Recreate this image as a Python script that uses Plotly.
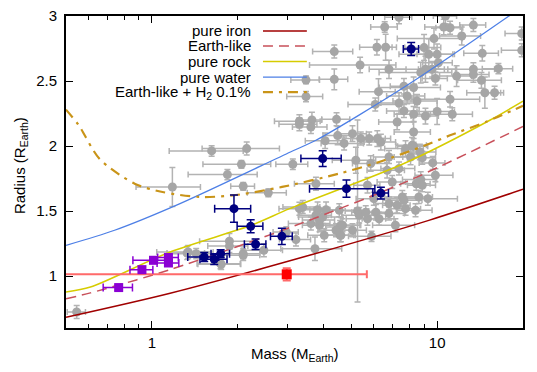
import plotly.graph_objects as go
import math

# ---------------- data ----------------
# model curves (mass in M_Earth, radius in R_Earth)
iron_m = [0.5, 1.159, 3.567, 9.35, 20.0]
iron_r = [0.682, 0.867, 1.159, 1.428, 1.667]

earth_m = [0.5, 0.609, 1.159, 3.2, 7.85, 20.0]
earth_r = [0.825, 0.87, 1.049, 1.39, 1.728, 2.15]

rock_m = [0.5, 0.609, 1.159, 2.23, 3.04, 7.65, 15.3, 20.0]
rock_r = [0.877, 0.915, 1.185, 1.39, 1.518, 1.865, 2.198, 2.345]

water_m = [0.5, 0.74, 1.255, 3.06, 3.76, 7.85, 18.0]
water_r = [1.236, 1.352, 1.557, 1.954, 2.044, 2.467, 3.005]

h2_m = [0.5, 0.554, 0.656, 0.87, 1.09, 1.47, 1.92, 2.86, 4.54, 6.26, 9.1, 11.1, 15.0, 20.0]
h2_r = [2.28, 2.16, 1.90, 1.71, 1.646, 1.608, 1.62, 1.685, 1.788, 1.877, 2.006, 2.082, 2.19, 2.31]

# known planets (gray)
gray_m = [0.545, 1.62, 2.15, 2.06, 1.84, 2.09, 1.18, 2.56, 3.12, 6.55,
          4.36, 6.15, 6.6, 5.37, 3.47, 4.36, 3.47, 3.29, 3.64, 4.44,
          6.23, 6.78, 7.65, 6.07, 7.35, 10.7, 10.55, 11.1, 13.4, 12.2,
          9.75, 19.8, 19.8, 9.0, 9.35, 10.0, 14.4, 10.1, 9.1, 9.6,
          13.4, 16.4, 11.7, 13.4, 8.76, 9.86, 14.3, 14.7, 15.9, 8.27,
          7.85, 8.5, 11.1, 7.65, 8.27, 10.0, 11.3, 9.1, 3.29, 3.61,
          4.05, 4.48, 4.72, 5.05, 5.4, 5.78, 6.17, 5.19, 5.26, 5.85,
          6.68, 7.35, 7.75, 7.24, 6.35, 6.78, 5.7, 6.0, 6.78, 7.24,
          7.55, 3.29, 3.81, 4.08, 4.54, 3.97, 4.6, 5.7, 6.1, 6.78,
          3.61, 8.27, 8.27, 8.7, 8.87, 8.07, 9.65, 9.86, 8.76, 8.45,
          9.28, 7.65, 1.34, 1.87, 1.87, 2.09, 2.47, 1.74, 2.96, 3.2,
          3.73, 4.02, 4.57, 4.57, 3.87, 5.89, 3.76, 3.38, 3.76, 3.87,
          4.6, 6.26, 6.96, 8.17, 8.63, 2.09, 1.33, 1.43, 1.75, 4.42,
          4.66, 5.05, 5.33, 5.62, 7.14, 7.75, 8.4, 8.87, 7.35]
gray_r = [0.723, 1.962, 1.98, 1.859, 1.78, 1.69, 1.685, 1.64, 1.86, 2.915,
          2.726, 2.76, 2.76, 2.623, 2.508, 2.513, 2.38, 2.19, 2.2, 2.205,
          2.418, 2.59, 2.46, 2.32, 2.33, 3.0, 2.915, 2.91, 2.93, 2.846,
          2.826, 2.865, 2.736, 2.757, 2.705, 2.705, 2.713, 2.64, 2.59, 2.59,
          2.59, 2.595, 2.538, 2.55, 2.565, 2.52, 2.505, 2.41, 2.41, 2.45,
          2.385, 2.346, 2.36, 2.27, 2.244, 2.265, 2.244, 2.23, 2.167, 2.146,
          2.04, 2.08, 2.02, 2.095, 2.057, 2.057, 2.057, 1.89, 1.5, 1.865,
          1.813, 1.826, 1.98, 2.185, 2.03, 1.915, 1.698, 1.595, 1.557, 1.544,
          1.608, 1.518, 1.51, 1.51, 1.505, 1.454, 1.39, 1.44, 1.49, 1.48,
          1.403, 2.108, 1.998, 1.954, 1.91, 1.915, 1.87, 1.775, 1.742, 1.71,
          1.595, 1.582, 1.185, 1.267, 1.23, 1.172, 1.198, 1.095, 1.338, 1.28,
          1.21, 1.313, 1.313, 1.377, 1.39, 1.305, 1.71, 1.53, 1.467, 1.43,
          1.313, 1.44, 1.723, 2.005, 1.608, 1.16, 1.177, 1.172, 1.09, 1.352,
          1.39, 1.352, 1.467, 1.49, 1.39, 1.518, 1.505, 1.698, 2.99]
gray_dm = [0.04, 0.47, 0.65, 0.55, 0.5, 0.2, 0.3, 0.4, 0.4, 0.7,
           0.7, 0.8, 0.6, 1.8, 0.4, 0.5, 0.5, 0.6, 0.3, 0.5,
           0.9, 1.0, 0.8, 1.2, 1.0, 1.0, 1.5, 1.2, 1.4, 2.0,
           2.5, 2.5, 3.0, 1.3, 2.0, 1.5, 2.0, 1.2, 2.5, 1.0,
           2.5, 2.0, 1.5, 1.8, 2.5, 1.0, 2.5, 2.0, 1.2, 2.0,
           1.2, 1.5, 3.0, 1.0, 1.2, 1.5, 2.0, 1.0, 0.5, 0.5,
           0.6, 0.5, 0.8, 0.6, 0.7, 0.8, 0.7, 0.9, 0.5, 0.8,
           1.0, 1.0, 1.2, 1.0, 0.8, 0.8, 0.6, 0.8, 0.7, 0.8,
           1.0, 0.5, 0.4, 0.5, 0.6, 0.7, 0.8, 0.9, 0.8, 0.9,
           0.6, 1.2, 1.0, 1.2, 1.0, 1.0, 1.0, 1.5, 1.2, 1.0,
           2.5, 1.2, 0.3, 0.4, 0.3, 0.3, 0.4, 0.3, 0.3, 0.4,
           0.9, 0.5, 0.6, 0.5, 0.5, 1.0, 0.6, 0.5, 0.5, 0.5,
           0.5, 0.8, 0.8, 1.0, 1.0, 0.3, 0.2, 0.3, 0.3, 0.6,
           0.7, 0.6, 0.7, 0.6, 1.2, 1.0, 1.2, 1.0, 0.8]
gray_dr = [0.05, 0.04, 0.05, 0.03, 0.04, 0.03, 0.15, 0.03, 0.04, 0.04,
           0.05, 0.06, 0.1, 0.06, 0.03, 0.08, 0.04, 0.05, 0.06, 0.05,
           0.1, 0.07, 0.06, 0.05, 0.08, 0.06, 0.06, 0.05, 0.05, 0.07,
           0.08, 0.05, 0.05, 0.1, 0.12, 0.08, 0.06, 0.05, 0.1, 0.06,
           0.05, 0.04, 0.08, 0.06, 0.08, 0.05, 0.06, 0.12, 0.05, 0.08,
           0.06, 0.05, 0.06, 0.05, 0.06, 0.1, 0.05, 0.06, 0.05, 0.05,
           0.06, 0.07, 0.05, 0.06, 0.05, 0.05, 0.06, 0.1, 0.7, 0.06,
           0.06, 0.05, 0.06, 0.06, 0.06, 0.05, 0.06, 0.05, 0.05, 0.06,
           0.05, 0.05, 0.06, 0.06, 0.05, 0.05, 0.06, 0.05, 0.06, 0.05,
           0.05, 0.08, 0.06, 0.06, 0.05, 0.06, 0.05, 0.05, 0.06, 0.05,
           0.05, 0.05, 0.05, 0.06, 0.05, 0.04, 0.05, 0.04, 0.04, 0.05,
           0.09, 0.05, 0.05, 0.05, 0.05, 0.04, 0.05, 0.05, 0.06, 0.06,
           0.05, 0.05, 0.05, 0.06, 0.05, 0.04, 0.05, 0.04, 0.04, 0.05,
           0.05, 0.05, 0.06, 0.05, 0.05, 0.05, 0.05, 0.05, 0.05]

# highlighted planets (navy circles)
navy_m = [8.11, 3.97, 4.81, 6.35, 1.94, 2.22, 2.31, 2.855, 1.526, 1.654, 1.742]
navy_r = [2.746, 1.903, 1.672, 1.638, 1.518, 1.382, 1.244, 1.305, 1.146, 1.128, 1.172]
navy_dm = [0.5, 0.64, 1.24, 0.4, 0.28, 0.23, 0.2, 0.25, 0.19, 0.18, 0.13]
navy_dr = [0.05, 0.06, 0.067, 0.045, 0.105, 0.05, 0.04, 0.063, 0.035, 0.04, 0.03]

# purple squares
purp_m = [0.765, 0.923, 1.013, 1.143, 1.143]
purp_r = [0.911, 1.049, 1.121, 1.142, 1.10]
purp_dm = [0.09, 0.085, 0.155, 0.095, 0.1]
purp_dr = [0.02, 0.02, 0.025, 0.025, 0.025]

# red square
red_m = [2.97]
red_r = [1.013]
red_dm_plus = [2.7]
red_dm_minus = [2.9]
red_dr = [0.047]

x_tickvals = [1, 10]
x_ticktext = ["1", "10"]
x_minor = [0.6, 0.7, 0.8, 0.9, 2, 3, 4, 5, 6, 7, 8, 9]
y_tickvals = [1, 1.5, 2, 2.5, 3]
y_ticktext = ["1", "1.5", "2", "2.5", "3"]

legend_names = ["pure iron", "Earth-like", "pure rock", "pure water",
                "Earth-like + H<sub>2</sub> 0.1%"]

# ---------------- styles ----------------
C_IRON = "#a00000"
C_EARTH = "#c8505a"
C_ROCK = "#d6cc00"
C_WATER = "#4d7fe6"
C_H2 = "#c99418"
GRAY = "#a6a6a6"
GRAY_BAR = "#b3b3b3"
NAVY = "#00007f"
PURPLE = "#8a00d4"
RED = "#ff0000"

dash_earth = "10px,6px"
dash_h2 = "10px,6px,3px,6px"

fig = go.Figure()

fig.add_trace(go.Scatter(
    x=gray_m, y=gray_r, mode="markers",
    marker=dict(color=GRAY, size=9, symbol="circle"),
    error_x=dict(type="data", array=gray_dm, color=GRAY_BAR, thickness=1.5, width=3),
    error_y=dict(type="data", array=gray_dr, color=GRAY_BAR, thickness=1.5, width=3),
    showlegend=False, cliponaxis=True))

curves = [
    (iron_m, iron_r, C_IRON, "solid", 1.5),
    (earth_m, earth_r, C_EARTH, dash_earth, 1.5),
    (rock_m, rock_r, C_ROCK, "solid", 1.5),
    (water_m, water_r, C_WATER, "solid", 1.3),
    (h2_m, h2_r, C_H2, dash_h2, 2.2),
]
for (xm, yr, c, d, w) in curves:
    fig.add_trace(go.Scatter(x=xm, y=yr, mode="lines",
                             line=dict(color=c, dash=d, width=w, shape="spline", smoothing=0.8),
                             showlegend=False))

fig.add_trace(go.Scatter(
    x=red_m, y=red_r, mode="markers",
    marker=dict(color=RED, size=10, symbol="square"),
    error_x=dict(type="data", symmetric=False, array=red_dm_plus, arrayminus=red_dm_minus,
                 color="#ff6a6a", thickness=2, width=4),
    error_y=dict(type="data", array=red_dr, color="#ff6a6a", thickness=2, width=4),
    showlegend=False))

fig.add_trace(go.Scatter(
    x=purp_m, y=purp_r, mode="markers",
    marker=dict(color=PURPLE, size=9, symbol="square"),
    error_x=dict(type="data", array=purp_dm, color=PURPLE, thickness=1.5, width=4),
    error_y=dict(type="data", array=purp_dr, color=PURPLE, thickness=1.5, width=4),
    showlegend=False))

fig.add_trace(go.Scatter(
    x=navy_m, y=navy_r, mode="markers",
    marker=dict(color=NAVY, size=9, symbol="circle"),
    error_x=dict(type="data", array=navy_dm, color=NAVY, thickness=1.5, width=4),
    error_y=dict(type="data", array=navy_dr, color=NAVY, thickness=1.5, width=4),
    showlegend=False))

# ---------------- legend (manual, text right-aligned, sample on right) ----------------
leg_y = [0.952, 0.904, 0.854, 0.804, 0.756]
leg_style = [(C_IRON, "solid", 1.5), (C_EARTH, dash_earth, 1.5), (C_ROCK, "solid", 1.5),
             (C_WATER, "solid", 1.3), (C_H2, dash_h2, 2.2)]
annotations = []
shapes = []
for name, yy, (c, d, w) in zip(legend_names, leg_y, leg_style):
    annotations.append(dict(text=name, xref="paper", yref="paper", x=0.409, y=yy,
                            xanchor="right", yanchor="middle", showarrow=False,
                            font=dict(size=15, color="black")))
    shapes.append(dict(type="line", xref="paper", yref="paper", x0=0.431, x1=0.527,
                       y0=yy, y1=yy, line=dict(color=c, dash=d, width=w)))

annotations.append(dict(text="Mass (M<sub>Earth</sub>)", xref="paper", yref="paper",
                        x=0.5, y=-0.085, xanchor="center", yanchor="middle",
                        showarrow=False, font=dict(size=15, color="black")))
annotations.append(dict(text="Radius (R<sub>Earth</sub>)", xref="paper", yref="paper",
                        x=-0.10, y=0.52, xanchor="center", yanchor="middle", textangle=-90,
                        showarrow=False, font=dict(size=15, color="black")))

fig.update_layout(
    width=537, height=372,
    margin=dict(l=66, r=14, t=16, b=44, autoexpand=False),
    paper_bgcolor="white", plot_bgcolor="white",
    font=dict(family="Liberation Sans, Arial, sans-serif", size=15, color="black"),
    showlegend=False,
    annotations=annotations, shapes=shapes,
    xaxis=dict(type="log", range=[math.log10(0.5), math.log10(20)], automargin=False,
               tickmode="array", tickvals=x_tickvals, ticktext=x_ticktext,
               ticks="inside", ticklen=7, tickwidth=1.2, tickcolor="black",
               showline=True, linecolor="black", linewidth=2, mirror="ticks",
               showgrid=False, zeroline=False,
               minor=dict(tickmode="array", tickvals=x_minor, ticks="inside",
                          ticklen=4, tickwidth=1, tickcolor="black", showgrid=False)),
    yaxis=dict(range=[0.6, 3.0], tickmode="array", tickvals=y_tickvals, ticktext=y_ticktext,
               automargin=False,
               ticks="inside", ticklen=7, tickwidth=1.2, tickcolor="black",
               showline=True, linecolor="black", linewidth=2, mirror="ticks",
               showgrid=False, zeroline=False, ticklabelstandoff=4),
)

# remove the default page margin so the figure fills the 537x372 window exactly
fig.write_html("out.html", config={"displayModeBar": False},
               post_script="document.body.style.margin='0px';")
